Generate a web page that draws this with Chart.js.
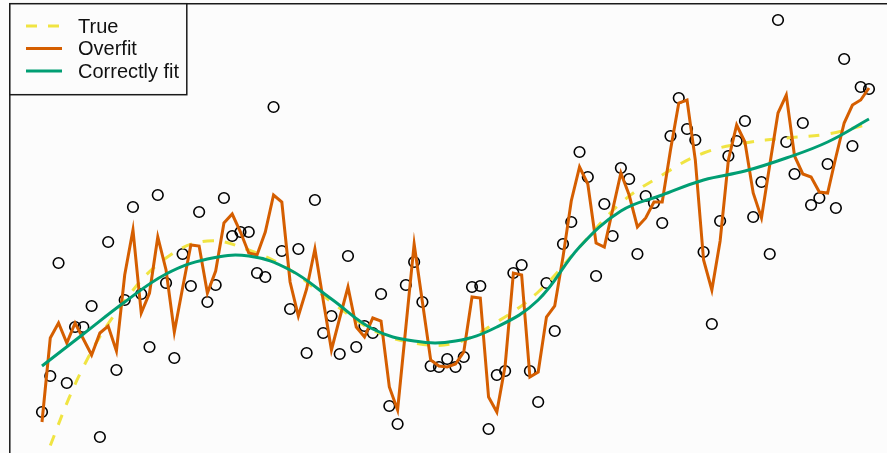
<!DOCTYPE html>
<html>
<head>
<meta charset="utf-8">
<script src="https://cdn.jsdelivr.net/npm/chart.js@4"></script>
<style>
  html, body { margin: 0; padding: 0; background: #fcfcfc; }
  #wrap { width: 887px; height: 453px; }
</style>
</head>
<body>
<div id="wrap"><canvas id="c" width="887" height="453"></canvas></div>
<script>
// Sample positions of the noisy observations
const xs = [0,1,2,3,4,5,6,7,8,9,10,11,12,13,14,15,16,17,18,19,20,21,22,23,24,25,26,27,28,29,30,
  31,32,33,34,35,36,37,38,39,40,41,42,43,44,45,46,47,48,49,50,51,52,53,54,55,56,57,58,59,60,
  61,62,63,64,65,66,67,68,69,70,71,72,73,74,75,76,77,78,79,80,81,82,83,84,85,86,87,88,89,90,
  91,92,93,94,95,96,97,98,99,100];

// Observed (noisy) values
const observed = [4.1,7.7,19.0,7.0,12.6,12.6,14.7,1.6,21.1,8.3,15.3,24.6,15.9,10.6,25.8,17.0,9.5,19.9,16.7,24.1,15.1,
  16.8,25.5,21.7,22.1,22.1,18.0,17.6,34.6,20.2,14.4,20.4,10.0,25.3,12.0,13.7,9.9,19.7,10.6,12.7,12.0,
  15.9,4.7,2.9,16.8,19.1,15.1,8.7,8.6,9.4,8.6,9.6,16.6,16.7,2.4,7.8,8.2,18.0,18.8,8.2,5.1,
  17.0,12.2,20.9,23.1,30.1,27.6,17.7,24.9,21.7,28.5,27.4,19.9,25.7,25.0,23.0,31.7,35.5,32.4,31.3,20.1,
  12.9,23.2,29.7,31.2,33.2,23.6,27.1,19.9,43.3,31.1,27.9,33.0,24.8,25.5,28.9,24.5,39.4,30.7,36.6,36.4];

// High-variance fit that chases the noise
const overfit = [3.1,11.5,13.0,11.0,13.0,11.4,9.8,12.0,12.7,10.2,17.8,22.3,14.0,16.0,21.6,18.3,12.1,16.5,20.8,20.7,16.0,
  18.2,23.0,23.9,22.1,20.0,19.8,22.1,25.8,25.1,17.1,13.7,16.4,20.4,15.3,10.3,13.5,16.6,12.6,11.6,13.5,
  13.2,6.6,4.3,12.6,20.9,15.1,9.3,8.7,8.6,8.9,10.1,15.6,15.5,5.6,4.1,8.7,18.0,17.8,7.6,8.1,
  13.6,14.7,19.6,25.2,28.6,26.9,21.0,20.6,24.3,28.0,25.8,22.6,23.5,25.1,25.1,30.3,35.0,35.3,29.3,19.3,
  16.3,21.2,29.3,32.8,31.1,26.0,23.5,28.8,34.0,35.8,29.7,27.9,27.6,26.1,26.0,29.6,33.0,34.8,35.3,36.5];

// Smooth curves, sampled every fifth position
const curveX = [0,5,10,15,20,25,30,35,40,45,50,55,60,65,70,75,80,85,90,95,100];
const trueCurve = [-1.3,8.6,15.2,19.5,21.2,20.3,18.3,15.1,12.3,11.0,11.0,13.1,16.1,20.6,25.0,27.8,30.0,31.0,31.5,31.9,32.9];
const goodFit = [8.7,11.9,15.1,17.9,19.4,19.7,18.3,15.4,12.4,11.2,11.2,12.6,15.3,20.6,24.2,25.8,27.3,28.2,29.5,31.1,33.4];

const legendOrder = ['True', 'Overfit', 'Correctly fit'];

const pts = (xArr, yArr) => xArr.map((x, i) => ({ x: x, y: yArr[i] }));

const BG = '#fcfcfc';

const framePlugin = {
  id: 'frame',
  beforeDraw(chart) {
    const ctx = chart.ctx;
    ctx.save();
    ctx.fillStyle = BG;
    ctx.fillRect(0, 0, chart.width, chart.height);
    ctx.restore();
  },
  afterDraw(chart) {
    const ctx = chart.ctx;
    const a = chart.chartArea;
    ctx.save();
    // plot box (left and top edges)
    ctx.strokeStyle = '#1a1a1a';
    ctx.lineWidth = 1.5;
    ctx.beginPath();
    ctx.moveTo(a.left - 0.2, a.bottom);
    ctx.lineTo(a.left - 0.2, a.top + 0.7);
    ctx.lineTo(a.right, a.top + 0.7);
    ctx.stroke();

    // legend box
    const bx = a.left - 0.2, by = a.top + 0.7, bw = 177, bh = 91;
    ctx.fillStyle = BG;
    ctx.fillRect(bx, by, bw, bh);
    ctx.strokeRect(bx, by, bw, bh);

    ctx.font = '20px "Liberation Sans", Arial, sans-serif';
    ctx.textBaseline = 'middle';
    ctx.textAlign = 'left';
    const rows = [26, 48.5, 71];
    legendOrder.forEach((label, i) => {
      const ds = chart.data.datasets.find(d => d.label === label);
      const y = rows[i];
      ctx.save();
      ctx.strokeStyle = ds.borderColor;
      ctx.lineWidth = ds.borderWidth;
      ctx.setLineDash(ds.borderDash || []);
      ctx.beginPath();
      ctx.moveTo(26, y);
      ctx.lineTo(62, y);
      ctx.stroke();
      ctx.restore();
      ctx.fillStyle = '#111';
      ctx.fillText(label, 78, y + 1);
    });
    ctx.restore();
  }
};

new Chart(document.getElementById('c'), {
  type: 'scatter',
  data: {
    datasets: [
      {
        label: 'Correctly fit',
        type: 'line',
        data: pts(curveX, goodFit),
        borderColor: '#009E73',
        borderWidth: 3,
        pointRadius: 0,
        tension: 0.4,
        fill: false,
        order: 0
      },
      {
        label: 'Overfit',
        type: 'line',
        data: pts(xs, overfit),
        borderColor: '#D55E00',
        borderWidth: 3,
        pointRadius: 0,
        tension: 0,
        fill: false,
        order: 1
      },
      {
        label: 'True',
        type: 'line',
        data: pts(curveX, trueCurve),
        borderColor: '#F0E442',
        borderWidth: 3,
        borderDash: [11, 11],
        pointRadius: 0,
        tension: 0.4,
        fill: false,
        order: 2
      },
      {
        label: 'Observed',
        data: pts(xs, observed),
        backgroundColor: 'rgba(0,0,0,0)',
        borderColor: '#000',
        borderWidth: 1.6,
        pointRadius: 5.3,
        pointHoverRadius: 5.3,
        order: 3
      }
    ]
  },
  options: {
    responsive: false,
    animation: false,
    devicePixelRatio: 1,
    layout: { autoPadding: false, padding: { left: 10, top: 3, right: 0, bottom: 0 } },
    plugins: {
      legend: { display: false },
      tooltip: { enabled: false }
    },
    scales: {
      x: { type: 'linear', display: false, min: -3.87, max: 102.18 },
      y: { type: 'linear', display: false, min: 0, max: 45 }
    }
  },
  plugins: [framePlugin]
});
</script>
</body>
</html>
